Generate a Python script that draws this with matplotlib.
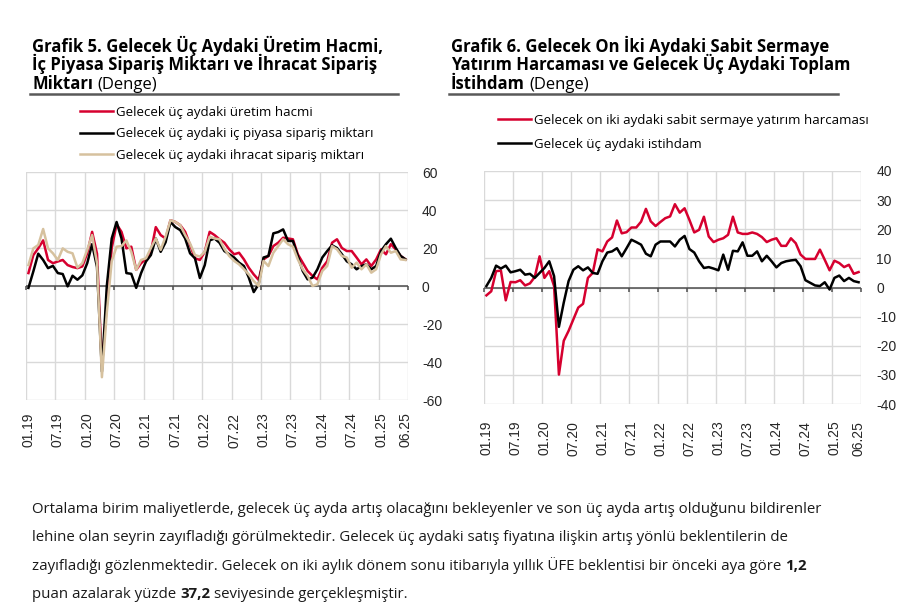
import numpy as np
import matplotlib
matplotlib.use('Agg')
import matplotlib.pyplot as plt
import matplotlib.transforms as mtransforms

plt.rcParams['axes.unicode_minus'] = False

# Veriler: aylik, 01.19 - 06.25 (78 ay)
tick_pos = [0, 6, 12, 18, 24, 30, 36, 42, 48, 54, 60, 66, 72, 77]
tick_labels = ['01.19', '07.19', '01.20', '07.20', '01.21', '07.21', '01.22',
               '07.22', '01.23', '07.23', '01.24', '07.24', '01.25', '06.25']

# Grafik 5
uretim = [6.8, 16.3, 19.8, 24, 13.7, 12, 12.9, 13.7, 11, 10, 9.4, 10.3, 17.2, 28.5,
          17, -42, -10, 20, 32.5, 28.5, 19.8, 20.7, 8.5, 12, 14.3, 18, 31, 26.8,
          25, 34.6, 33.7, 32, 28.5, 21.6, 14.6, 13.7, 18, 28.5, 26.8, 24.6, 22.8,
          19.3, 16.7, 17.5, 14, 9.6, 6.1, 3.2, 14, 15.8, 21, 22.8, 25.4, 25, 24.6,
          16.7, 12.3, 7.9, 5.3, 3.5, 9.6, 13, 22.8, 24.6, 20, 18.4, 18.4, 15, 11.4,
          14, 10.5, 14, 19.3, 16.7, 22, 19.3, 15.8, 14]
ic_piyasa = [-1, 7.7, 17, 13.7, 9.4, 10.6, 6.8, 6.3, -0.2, 5.4, 3.3, 5.6, 12, 22,
             10, -45, 0, 25, 33.7, 25, 6.8, 6.4, -1, 6.8, 12.9, 16.3, 25, 18, 23,
             33.7, 31, 29.4, 25, 17.2, 14.6, 4.2, 11, 24, 25, 22.8, 18.4, 16.7, 15,
             12.3, 10.5, 4.4, -3.2, 0.9, 15, 15.8, 27.7, 28.4, 29.8, 23.7, 23.7,
             15.8, 7.9, 3.5, 4.4, 8.8, 15, 18.4, 21.4, 20, 16.7, 13, 11.4, 8.8, 10.5,
             11.4, 8.8, 10.5, 18.4, 22, 24.9, 20, 15.8, 14]
ihracat = [11, 19.8, 21.6, 30, 19.8, 17.2, 13.7, 19.8, 18, 17.2, 9.7, 12, 19, 26.8,
           12, -48, -14, 13, 20.7, 21, 24, 18, 8.5, 13.7, 14.6, 20, 25, 19, 26,
           34.6, 33.7, 32, 26.8, 22.4, 16.3, 15.5, 18, 26, 25, 24.6, 19.6, 15.8,
           13.2, 11.4, 8.8, 6.1, 2.6, 0, 13.2, 10.5, 17.5, 21, 24.6, 22, 20.7, 14,
           8.8, 5.3, 0, 0.9, 7.9, 10.5, 21, 19.3, 15.8, 15, 9.6, 12.3, 8.8, 11.4, 7,
           8.8, 16.7, 21, 17.5, 18.4, 14, 13.7]

# Grafik 6
sabit_yatirim = [-2.7, -1.3, 5.6, 5.8, -4.4, 1.9, 1.8, 2.5, 0.7, 1.4, 3.6, 10.7,
                 3.3, 5.6, 0.5, -29.9, -18.3, -14.9, -10.9, -6.9, -5.6, 3.3, 5,
                 13.1, 12.4, 15.8, 17.2, 23, 18.6, 19, 20.6, 20.6, 22.6, 27, 22.7,
                 21.1, 22.5, 23.8, 24.4, 28.6, 25.7, 27.2, 23.2, 18.9, 19.8, 24.3,
                 17.5, 15.6, 16.4, 16.9, 18.1, 24.3, 18.9, 18.4, 18.4, 18.9, 18.4,
                 17.3, 15.6, 16.4, 16.9, 14.3, 14.3, 16.9, 15.2, 11.3, 9.8, 9.8, 9.8,
                 13, 9.5, 5.9, 9.2, 8.4, 7, 7.8, 4.7, 5.3]
istihdam = [0.5, 3.3, 7.5, 6.5, 7.5, 5.2, 5.6, 6.1, 4.4, 4.7, 3.3, 5, 6.7, 9, 3.9,
            -13.5, -5.2, 2.2, 6.1, 7.3, 5.9, 6.9, 5, 4.7, 9, 12, 12.4, 13.5, 10.7,
            13.5, 16.4, 15.6, 14.7, 11.6, 10.7, 14.7, 15.8, 15.8, 15.8, 14.1, 16.4,
            17.7, 13.2, 12, 9, 6.7, 7, 6.5, 5.9, 11.3, 6.1, 12.6, 12.4, 15.5, 10.9,
            10.9, 12.4, 9, 10.9, 9, 6.9, 8.4, 9, 9.3, 9.5, 7.3, 2.5, 1.6, 0.7, 0.5,
            1.8, -0.7, 3.3, 4.1, 2.2, 3.3, 2.2, 1.8]

KIRMIZI = '#d6002f'
SIYAH = '#000000'
BEJ = '#d6c19e'
GRID = '#d9d9d9'
SIFIR = '#4d4d4d'
ACIK_YAZI = 'Open Sans'

x = np.arange(len(uretim))
grid_pos = [p - 0.5 for p in tick_pos[:-1]] + [len(x) - 0.5]

fig = plt.figure(figsize=(9.11, 6.09), dpi=100)
fig.patch.set_facecolor('white')

ax1 = fig.add_axes([26 / 911, 1 - 400 / 609, 382 / 911, 228 / 609])
ax2 = fig.add_axes([484 / 911, 1 - 404 / 609, 377 / 911, 233 / 609])


def hazirla(ax, ymin, ymax, step, xpad, ypad, yukseklik_px):
    ax.set_xlim(-0.5, len(x) - 0.5)
    ax.set_ylim(ymin, ymax)
    ax.set_yticks(np.arange(ymin, ymax + 1, step))
    ax.yaxis.tick_right()
    ax.tick_params(axis='y', length=0, pad=ypad, labelsize=10, labelcolor='#262626')
    ax.set_xticks(tick_pos)
    ax.set_xticklabels(tick_labels, rotation=90)
    ax.tick_params(axis='x', which='major', length=0, pad=xpad, labelsize=10,
                   labelcolor='#262626')
    ax.set_xticks(grid_pos, minor=True)
    ax.tick_params(axis='x', which='minor', length=0)
    ax.grid(axis='x', which='minor', color=GRID, lw=1)
    ax.grid(axis='y', which='major', color=GRID, lw=1)
    for s in ax.spines.values():
        s.set_visible(False)
    for lab in ax.get_xticklabels() + ax.get_yticklabels():
        lab.set_family('Liberation Sans')
    # sifir cizgisi ve uzerindeki kucuk tikler (izgaranin ustunde)
    ax.axhline(0, color=SIFIR, lw=1.1, zorder=1.9)
    sifir = (0 - ymin) / (ymax - ymin)
    trans = mtransforms.blended_transform_factory(ax.transData, ax.transAxes)
    ax.vlines(grid_pos, sifir - 4 / yukseklik_px, sifir, transform=trans,
              color=SIFIR, lw=1.1, zorder=1.9, clip_on=False)


hazirla(ax1, -60, 60, 20, 9, 10, 228)
hazirla(ax2, -40, 40, 10, 12, 11, 233)

l1, = ax1.plot(x, uretim, color=KIRMIZI, lw=1.8, zorder=3)
l2, = ax1.plot(x, ic_piyasa, color=SIYAH, lw=1.8, zorder=3)
l3, = ax1.plot(x, ihracat, color=BEJ, lw=1.8, zorder=3)

r1, = ax2.plot(x, sabit_yatirim, color=KIRMIZI, lw=1.8, zorder=3)
r2, = ax2.plot(x, istihdam, color=SIYAH, lw=1.8, zorder=3)

leg_ayar = dict(loc='upper left', frameon=False, borderaxespad=0, borderpad=0,
                handlelength=2.5, handletextpad=0.2,
                prop={'family': ACIK_YAZI, 'size': 9.5})
fig.legend([l1, l2, l3],
           ['Gelecek üç aydaki üretim hacmi', 'Gelecek üç aydaki iç piyasa sipariş miktarı',
            'Gelecek üç aydaki ihracat sipariş miktarı'],
           bbox_to_anchor=(80 / 911, 1 - 106 / 609), labelspacing=0.64, **leg_ayar)
fig.legend([r1, r2],
           ['Gelecek on iki aydaki sabit sermaye yatırım harcaması', 'Gelecek üç aydaki istihdam'],
           bbox_to_anchor=(498 / 911, 1 - 114 / 609), labelspacing=0.82, **leg_ayar)

renderer = fig.canvas.get_renderer()
W = fig.bbox.width


def satir(x0, y_px, parcalar, size, renk):
    # parcalar: (metin, kalin) - aralarina bir bosluk birakilir
    xx = x0 / 911
    y = 1 - y_px / 609
    bosluk = size * 100 / 72 * 0.26 / W
    for metin, kalin in parcalar:
        t = fig.text(xx, y, metin, fontsize=size, family=ACIK_YAZI,
                     fontweight='bold' if kalin else 'normal', color=renk, va='baseline')
        bb = t.get_window_extent(renderer=renderer)
        xx = bb.x1 / W + bosluk


# Basliklar
for x0, cizgi_x1, satirlar in [
    (32, 398, [[('Grafik 5. Gelecek Üç Aydaki Üretim Hacmi,', True)],
               [('İç Piyasa Sipariş Miktarı ve İhracat Sipariş', True)],
               [('Miktarı', True), ('(Denge)', False)]]),
    (451, 838, [[('Grafik 6. Gelecek On İki Aydaki Sabit Sermaye', True)],
                [('Yatırım Harcaması ve Gelecek Üç Aydaki Toplam', True)],
                [('İstihdam', True), ('(Denge)', False)]]),
]:
    for k, parca in enumerate(satirlar):
        satir(x0, 52 + 18.5 * k, parca, 12, 'black')
    fig.add_artist(plt.Line2D([(x0 - 2) / 911, cizgi_x1 / 911], [1 - 94 / 609] * 2,
                              color='#595959', lw=1.8, transform=fig.transFigure))

# Alt metin
metin_satirlari = [
    [('Ortalama birim maliyetlerde, gelecek üç ayda artış olacağını bekleyenler ve son üç ayda artış olduğunu bildirenler', False)],
    [('lehine olan seyrin zayıfladığı görülmektedir. Gelecek üç aydaki satış fiyatına ilişkin artış yönlü beklentilerin de', False)],
    [('zayıfladığı gözlenmektedir. Gelecek on iki aylık dönem sonu itibarıyla yıllık ÜFE beklentisi bir önceki aya göre', False), ('1,2', True)],
    [('puan azalarak yüzde', False), ('37,2', True), ('seviyesinde gerçekleşmiştir.', False)],
]
for k, parca in enumerate(metin_satirlari):
    satir(32, 513 + 28.3 * k, parca, 10.8, '#1a1a1a')

fig.savefig('out.png', dpi=100, facecolor='white')
